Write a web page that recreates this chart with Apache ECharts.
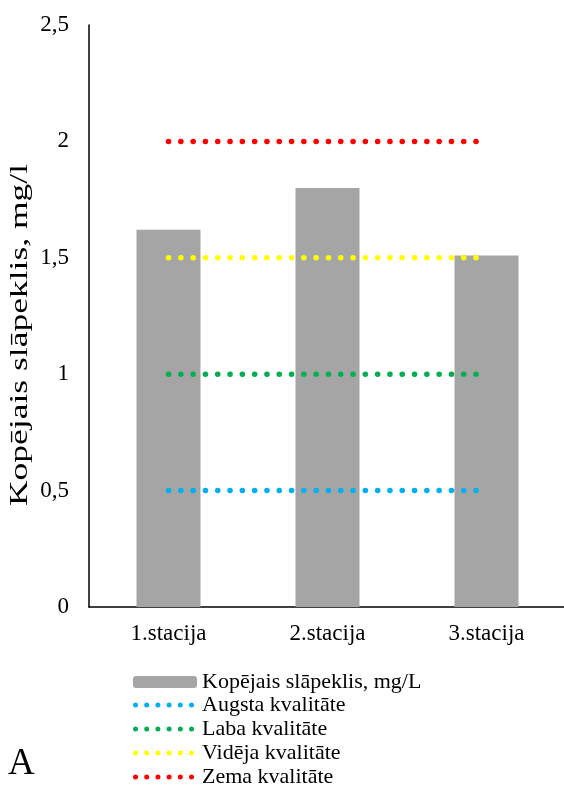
<!DOCTYPE html>
<html><head><meta charset="utf-8">
<script src="https://cdn.jsdelivr.net/npm/echarts@6/dist/echarts.min.js"></script>
<style>html,body{margin:0;padding:0;background:#fff}#c{width:564px;height:787px}</style>
</head><body><div id="c"></div>
<script>
const categories = ['1.stacija', '2.stacija', '3.stacija'];
const barName = 'Kopējais slāpeklis, mg/L';
const barValues = [1.62, 1.80, 1.51];
const augsta = [0.5, 0.5, 0.5];
const laba = [1, 1, 1];
const videja = [1.5, 1.5, 1.5];
const zema = [2, 2, 2];
const yTicks = [0, 0.5, 1, 1.5, 2, 2.5];
const lineNames = ['Augsta kvalitāte', 'Laba kvalitāte', 'Vidēja kvalitāte', 'Zema kvalitāte'];

const font = 'Liberation Serif';
const chart = echarts.init(document.getElementById('c'));
function dotLine(name, data, color) {
  return {
    name, type: 'line', data, symbol: 'none', z: 3,
    lineStyle: { color, width: 5.5, type: [0.1, 12.2], cap: 'round' },
    itemStyle: { color }
  };
}
// six dots legend icon
let dots = '';
for (let i = 0; i < 6; i++) {
  const cx = 2.5 + i * 11.2;
  dots += `M${cx - 2.5} 2.5 A2.5 2.5 0 1 0 ${cx + 2.5} 2.5 A2.5 2.5 0 1 0 ${cx - 2.5} 2.5 Z `;
}
dots += 'M64 2.5';
const dotIcon = 'path://' + dots;

const legendText = { fontSize: 22, fontFamily: font, color: '#000', lineHeight: 20 };
chart.setOption({
  animation: false,
  backgroundColor: '#fff',
  textStyle: { fontFamily: font, color: '#000' },
  grid: { left: 89, right: -2, top: 25, bottom: 180, outerBoundsMode: 'none', containLabel: false },
  xAxis: {
    type: 'category', data: categories,
    axisLine: { lineStyle: { color: '#000', width: 1.5 } },
    axisTick: { show: false },
    axisLabel: { fontSize: 23, fontFamily: font, color: '#000', margin: 15 }
  },
  yAxis: {
    type: 'value', min: yTicks[0], max: yTicks[yTicks.length - 1], interval: 0.5,
    axisLine: { show: true, lineStyle: { color: '#000', width: 1.5 } },
    axisTick: { show: false },
    splitLine: { show: false },
    axisLabel: { fontSize: 23, fontFamily: font, color: '#000', margin: 20,
      formatter: v => String(v).replace('.', ',') }
  },
  legend: [
    { orient: 'vertical', left: 133, top: 671, padding: 0, width: 400, height: 40,
      itemWidth: 64, itemHeight: 12, itemGap: 2, textStyle: legendText,
      data: [barName] },
    { orient: 'vertical', left: 133, top: 694, padding: 0, width: 400, height: 200,
      itemWidth: 64, itemHeight: 5, itemGap: 2, textStyle: legendText,
      itemStyle: { borderWidth: 0 },
      data: lineNames.map(n => ({ name: n, icon: dotIcon })) }
  ],
  graphic: [
    { type: 'text', x: 8, y: 746, style: { text: 'A', font: '37px "Liberation Serif"', fill: '#000', verticalAlign: 'top' } },
    { type: 'text', x: 20, y: 335, rotation: Math.PI / 2, scaleX: 1.42,
      style: { text: 'Kopējais slāpeklis, mg/l', font: '25px "Liberation Serif"', fill: '#000', align: 'center', verticalAlign: 'middle' } }
  ],
  series: [
    { name: barName, type: 'bar', data: barValues, barWidth: 64, itemStyle: { color: '#a5a5a5' }, z: 2 },
    dotLine(lineNames[0], augsta, '#00b0f0'),
    dotLine(lineNames[1], laba, '#00b050'),
    dotLine(lineNames[2], videja, '#ffff00'),
    dotLine(lineNames[3], zema, '#ff0000')
  ]
});
</script></body></html>
